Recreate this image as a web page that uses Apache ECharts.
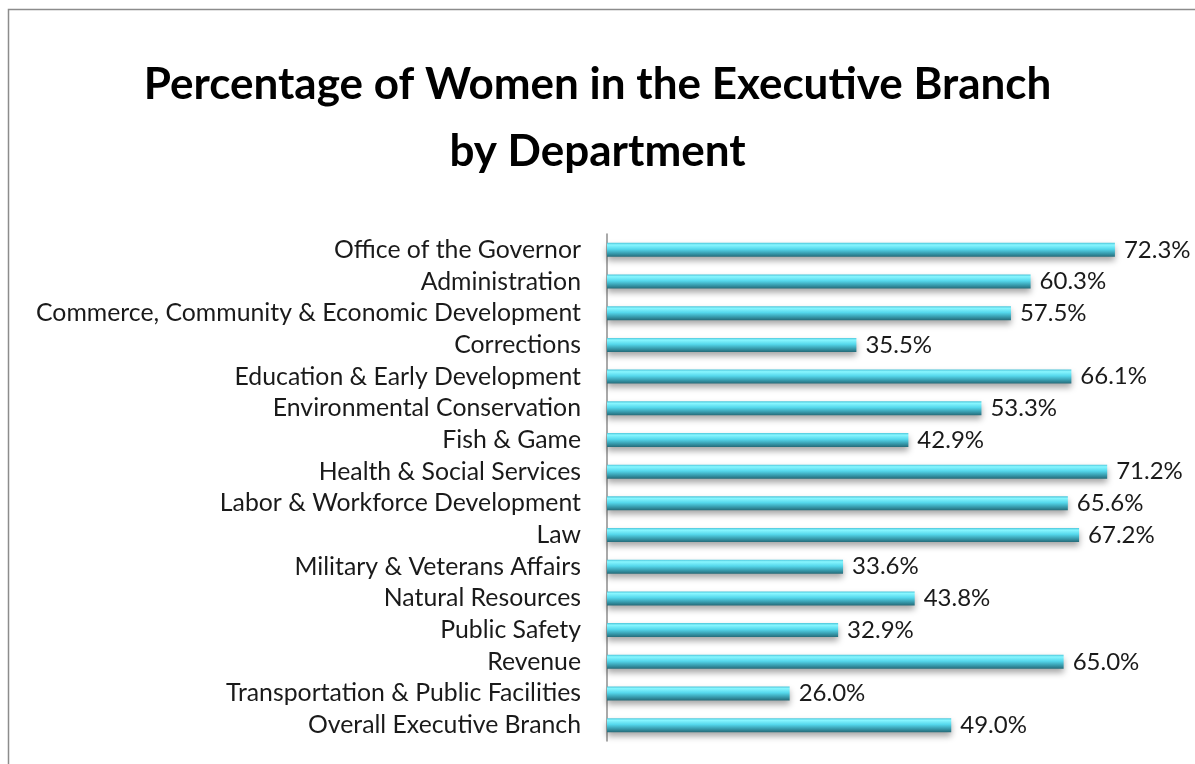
<!DOCTYPE html>
<html>
<head>
<meta charset="utf-8">
<script src="https://cdn.jsdelivr.net/npm/echarts@6/dist/echarts.min.js"></script>
<style>
html, body { margin: 0; padding: 0; background: #fff; }
#main { width: 1195px; height: 764px; }
</style>
</head>
<body>
<div id="main"></div>
<script>
var departments = [
    'Office of the Governor',
    'Administration',
    'Commerce, Community & Economic Development',
    'Corrections',
    'Education & Early Development',
    'Environmental Conservation',
    'Fish & Game',
    'Health & Social Services',
    'Labor & Workforce Development',
    'Law',
    'Military & Veterans Affairs',
    'Natural Resources',
    'Public Safety',
    'Revenue',
    'Transportation & Public Facilities',
    'Overall Executive Branch'
];
var womenPct = [72.3, 60.3, 57.5, 35.5, 66.1, 53.3, 42.9, 71.2, 65.6, 67.2, 33.6, 43.8, 32.9, 65.0, 26.0, 49.0];

var myChart = echarts.init(document.getElementById('main'));
var option = {
    animation: false,
    title: {
        text: 'Percentage of Women in the Executive Branch\nby Department',
        left: 'center',
        top: 46,
        textStyle: {
            fontFamily: 'Lato',
            fontWeight: 'bold',
            fontSize: 44,
            lineHeight: 67,
            color: '#000'
        }
    },
    graphic: [{
        type: 'rect',
        shape: { x: 8.5, y: 9.5, width: 1300, height: 900 },
        style: { fill: 'none', stroke: '#8c8c8c', lineWidth: 1.5 },
        silent: true
    }],
    grid: {
        left: 607,
        right: 26,
        top: 234,
        height: 507
    },
    xAxis: {
        type: 'value',
        min: 0,
        max: 80,
        show: false
    },
    yAxis: {
        type: 'category',
        inverse: true,
        data: departments,
        axisLine: { show: true, lineStyle: { color: '#8c8c8c', width: 1.5 } },
        axisTick: { show: false },
        axisLabel: {
            interval: 0,
            fontFamily: 'Lato',
            fontSize: 24.8,
            color: '#1a1a1a',
            margin: 26
        }
    },
    series: [{
        type: 'bar',
        data: womenPct,
        barWidth: 14,
        itemStyle: {
            color: {
                type: 'linear', x: 0, y: 0, x2: 0, y2: 1,
                colorStops: [
                    { offset: 0, color: '#4cc6da' },
                    { offset: 0.15, color: '#88f6ff' },
                    { offset: 0.45, color: '#55d8ec' },
                    { offset: 0.75, color: '#389daf' },
                    { offset: 1, color: '#256b79' }
                ]
            },
            shadowColor: 'rgba(0,0,0,0.35)',
            shadowBlur: 6,
            shadowOffsetY: 4
        },
        label: {
            show: true,
            position: 'right',
            distance: 9,
            fontFamily: 'Lato',
            fontSize: 24,
            color: '#1a1a1a',
            formatter: function (p) { return p.value.toFixed(1) + '%'; }
        }
    }]
};
myChart.setOption(option);
</script>
</body>
</html>
